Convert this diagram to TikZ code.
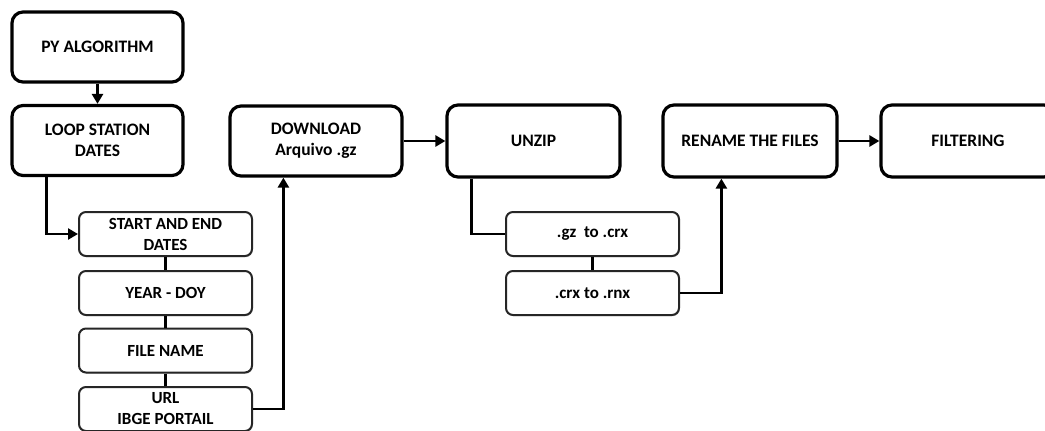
\documentclass[tikz,border=0pt]{standalone}
\usepackage{fontspec}
\setmainfont{Carlito}
\usetikzlibrary{arrows.meta,calc,shadows}
\begin{document}
\begin{tikzpicture}[x=1pt,y=-1pt,
  bigbox/.style={draw=black,line width=3.2pt,rounded corners=11pt,fill=white,
    minimum width=171pt,minimum height=70pt,align=center,
    font=\bfseries\fontsize{17.5}{21}\selectfont,inner sep=1pt},
  smallbox/.style={draw=black!85,line width=2pt,rounded corners=7pt,fill=white,
    minimum width=173pt,minimum height=44pt,align=center,
    drop shadow={shadow xshift=0.8pt,shadow yshift=-1.2pt,opacity=0.35,fill=black!60},
    font=\bfseries\fontsize{17}{21}\selectfont,inner sep=0pt},
  link/.style={draw=black,line width=2.6pt},
  flow/.style={link,-{Triangle[length=10pt,width=11pt]}}]
\useasboundingbox (0,0) rectangle (1045,431);
\clip (0,0) rectangle (1045,431);

% main column and top row
\node[bigbox] (py)   at (97.5,47)   {PY ALGORITHM};
\node[bigbox] (loop) at (97.5,140.5) {LOOP STATION\\DATES};
\node[bigbox,minimum width=172pt] (dl) at (316,141) {DOWNLOAD\\Arquivo .gz};
\node[bigbox,minimum width=173pt,minimum height=72pt] (unzip) at (533.5,141) {UNZIP};
\node[bigbox,minimum width=174pt,minimum height=72pt] (ren) at (750,141) {RENAME THE FILES};
\node[bigbox,minimum width=174pt,minimum height=72pt] (filt) at (968,141) {FILTERING};

% date and file steps
\node[smallbox] (start) at (165.5,234)   {START AND END\\DATES};
\node[smallbox] (doy)   at (165.5,293)   {YEAR - DOY};
\node[smallbox] (fname) at (165.5,350.5) {FILE NAME};
\node[smallbox] (url)   at (165.5,409)   {URL\\IBGE PORTAIL};

% extension changes
\node[smallbox] (gz)  at (592.5,234) {.gz\ \ to .crx};
\node[smallbox] (crx) at (592.5,293) {.crx to .rnx};

% connectors
\draw[flow] (py.south) -- (loop.north);
\draw[flow] ($(loop.south west)+(36,0)$) |- (start.west);
\draw[link] (start.south) -- (doy.north);
\draw[link] (doy.south) -- (fname.north);
\draw[link] (fname.south) -- (url.north);
\draw[flow] (url.east) -| ($(dl.south west)+(55,0)$);
\draw[flow] (dl.east) -- (unzip.west);
\draw[link] ($(unzip.south west)+(26,0)$) |- (gz.west);
\draw[link] (gz.south) -- (crx.north);
\draw[flow] (crx.east) -| ($(ren.south west)+(60,0)$);
\draw[flow] (ren.east) -- (filt.west);
\end{tikzpicture}
\end{document}
